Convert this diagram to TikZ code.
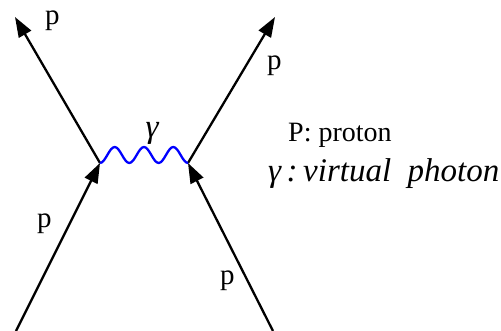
\documentclass[tikz,border=0pt]{standalone}
\usepackage{fontspec}
\setmainfont{Liberation Serif}[ItalicFont={Liberation Serif Italic}]
\usetikzlibrary{arrows.meta}

\begin{document}
\begin{tikzpicture}[
    x=1pt, y=-1pt,
    fermion/.style={line width=2.3pt, draw=black, -{Triangle[length=20pt, width=14pt]}},
    photon/.style={line width=2.3pt, draw=blue, line join=round},
    plabel/.style={anchor=base west, inner sep=0pt, font=\fontsize{29}{30}\selectfont},
    legend/.style={anchor=base west, inner sep=0pt}
]
    \useasboundingbox (0,0) rectangle (501,331);

    % Vertices and free ends
    \coordinate (vl) at (100,163);
    \coordinate (vr) at (188,163);
    \coordinate (inl) at (16,331);
    \coordinate (inr) at (273,331);
    \coordinate (outl) at (15,17);
    \coordinate (outr) at (275,17);

    % Proton lines
    \draw[fermion] (inl) -- (vl);
    \draw[fermion] (inr) -- (vr);
    \draw[fermion] (vl) -- (outl);
    \draw[fermion] (vr) -- (outr);

    % Virtual photon
    \draw[photon] (vl) \foreach \k in {1,2,3} {
        cos ++(7.33,-8) sin ++(7.33,-8) cos ++(7.33,8) sin ++(7.33,8)} -- (vr);
    \node[inner sep=0pt, font=\fontsize{33}{35}\selectfont\itshape] (gam) at (152,133) {γ};

    % Proton labels
    \node[plabel] (p1) at (45,25) {p};
    \node[plabel] (p2) at (267,70) {p};
    \node[plabel] (p3) at (37,228) {p};
    \node[plabel] (p4) at (220,285) {p};

    % Legend
    \node[legend, font=\fontsize{28}{30}\selectfont] (lg1) at (288,142) {P: proton};
    \node[legend, font=\fontsize{33}{35}\selectfont\itshape] (lg2) at (268,182) {γ\,:\,virtual\ \ photon};
\end{tikzpicture}
\end{document}
